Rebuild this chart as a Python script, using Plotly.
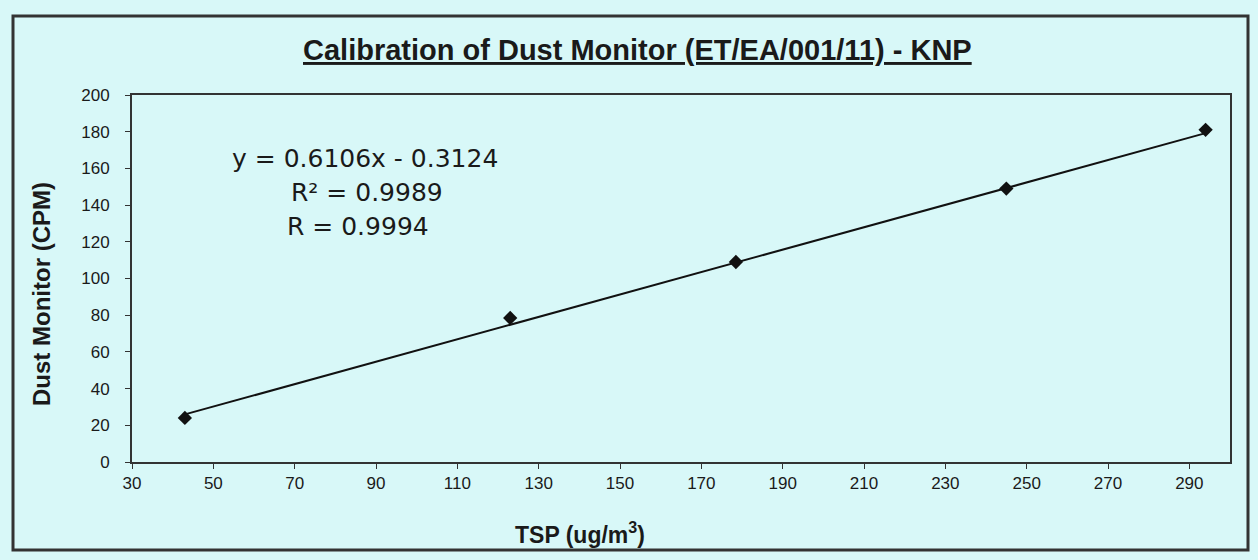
import plotly.graph_objects as go

# ---- data ----
tsp_values = [43, 123, 178.5, 245, 294]          # TSP (ug/m3)
dust_values = [24, 78.5, 109, 149, 181]          # Dust monitor (CPM)
fit_slope = 0.6106
fit_intercept = -0.3124
x_ticks = [30, 50, 70, 90, 110, 130, 150, 170, 190, 210, 230, 250, 270, 290]
y_ticks = [0, 20, 40, 60, 80, 100, 120, 140, 160, 180, 200]
title_text = "Calibration of Dust Monitor (ET/EA/001/11) - KNP"
eq_lines = ["y = 0.6106x - 0.3124", "R² = 0.9989", "R = 0.9994"]
x_title = "TSP (ug/m<sup>3</sup>)"
y_title = "Dust Monitor (CPM)"

# ---- layout geometry (pixels) ----
W, H = 1258, 560
L, R, T, B = 132, 1230, 95, 462
BG = "#d8f8f8"
INK = "#1a1a1a"


def px(x):
    return (x - L) / (R - L)


def py(y):
    return (B - y) / (B - T)


trend_x = [min(tsp_values), max(tsp_values)]
trend_y = [fit_slope * v + fit_intercept for v in trend_x]

fig = go.Figure()
fig.add_trace(go.Scatter(x=trend_x, y=trend_y, mode="lines",
                         line=dict(color="#111111", width=2),
                         hoverinfo="skip", showlegend=False))
fig.add_trace(go.Scatter(x=tsp_values, y=dust_values, mode="markers",
                         marker=dict(symbol="diamond", size=11, color="#111111"),
                         showlegend=False))

axis_common = dict(showgrid=False, zeroline=False, showline=True,
                   linecolor="#333333", linewidth=2, mirror=True,
                   ticks="outside", ticklen=5, tickcolor="#333333", tickwidth=1,
                   tickfont=dict(family="Liberation Sans, Arial", size=17, color=INK))

fig.update_layout(
    width=W, height=H,
    margin=dict(l=L, r=W - R, t=T, b=H - B, pad=0),
    paper_bgcolor=BG, plot_bgcolor=BG,
    xaxis=dict(range=[30, 300], tickmode="array", tickvals=x_ticks,
               ticklabelstandoff=0, **axis_common),
    yaxis=dict(range=[0, 200], tickmode="array", tickvals=y_ticks,
               ticklabelstandoff=12, **axis_common),
    showlegend=False,
)

# outer chart border
fig.add_shape(type="rect", xref="paper", yref="paper",
              x0=px(13), x1=px(1248), y0=py(550), y1=py(16),
              line=dict(color="#333333", width=3), fillcolor="rgba(0,0,0,0)")

# title
fig.add_annotation(text="<b>" + title_text + "</b>", xref="paper", yref="paper",
                   x=px(637), y=py(50), xanchor="center", yanchor="middle",
                   showarrow=False,
                   font=dict(family="Liberation Sans, Arial", size=29, color=INK,
                             lineposition="under"))

# equation block
eq_pos = [(365, 158), (367, 192), (358, 226)]
for txt, (ex, ey) in zip(eq_lines, eq_pos):
    fig.add_annotation(text=txt, xref="paper", yref="paper",
                       x=px(ex), y=py(ey), xanchor="center", yanchor="middle",
                       showarrow=False,
                       font=dict(family="DejaVu Sans", size=25, color=INK))

# axis titles
fig.add_annotation(text="<b>" + x_title + "</b>", xref="paper", yref="paper",
                   x=px(580), y=py(533), xanchor="center", yanchor="middle",
                   showarrow=False,
                   font=dict(family="Liberation Sans, Arial", size=23, color=INK))
fig.add_annotation(text="<b>" + y_title + "</b>", xref="paper", yref="paper",
                   x=px(41), y=py(294), xanchor="center", yanchor="middle",
                   textangle=-90, showarrow=False,
                   font=dict(family="Liberation Sans, Arial", size=24, color=INK))

fig.write_html("out.html",
               config={"displayModeBar": False},
               post_script="document.body.style.margin='0';"
                           "document.body.style.background='" + BG + "';")
